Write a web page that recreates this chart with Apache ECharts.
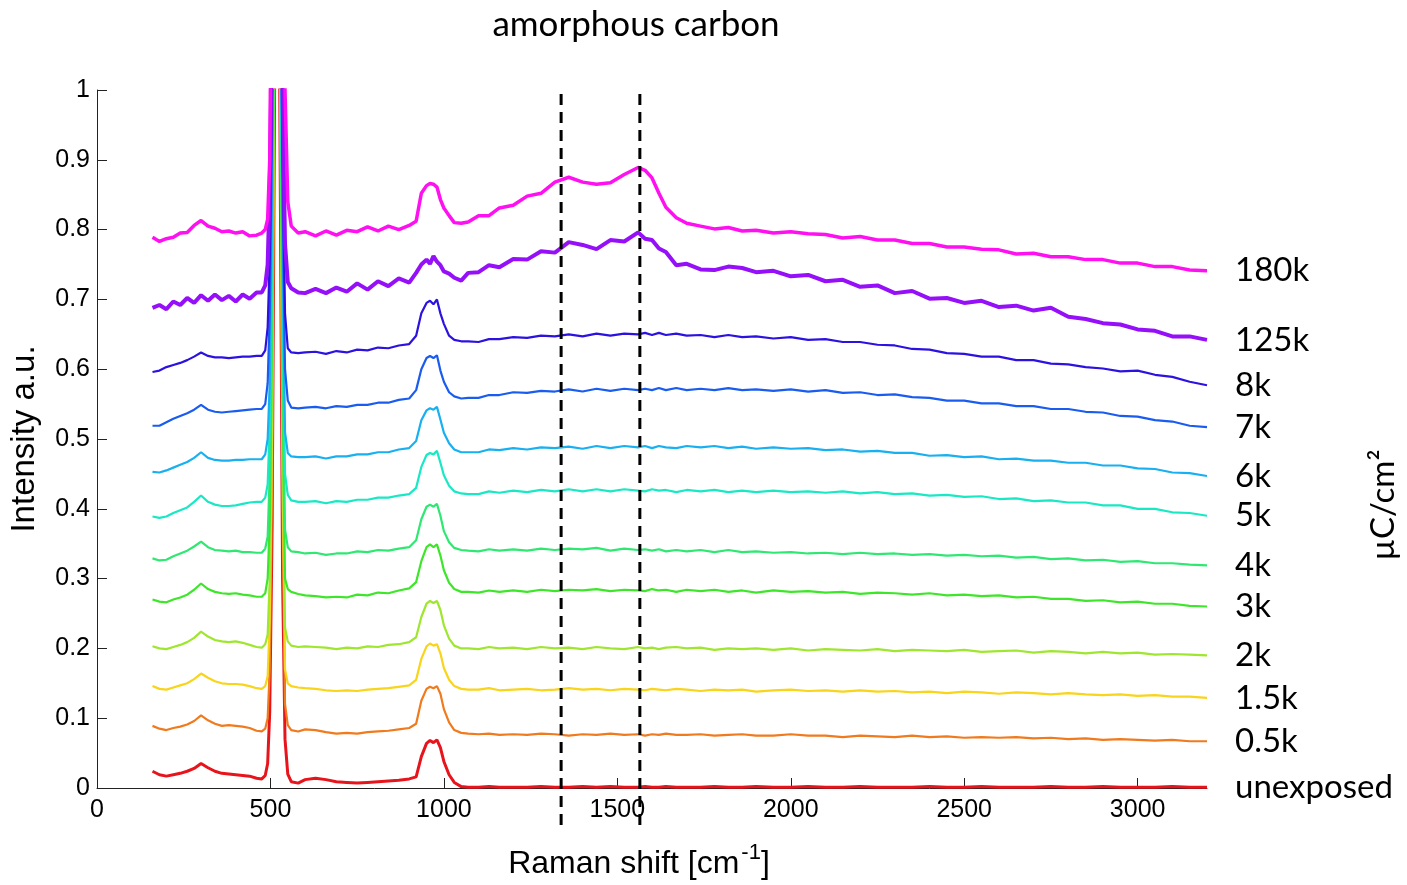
<!DOCTYPE html>
<html>
<head>
<meta charset="utf-8">
<script src="https://cdn.jsdelivr.net/npm/echarts@6/dist/echarts.min.js"></script>
<style>
  html, body { margin: 0; padding: 0; background: #fff; }
  #chart { width: 1407px; height: 885px; }
</style>
</head>
<body>
<div id="chart"></div>
<script>
// Raman shift sampling points [cm^-1], shared by every spectrum
const ramanShift = [
  160, 180, 200, 220, 240, 260, 280, 300, 320, 340, 360, 380, 400, 420, 440, 460,
  475, 485, 492, 498, 505, 512, 520, 528, 535, 542, 550,
  560, 580, 600,
  630, 660, 690, 720, 750, 780, 810, 840, 870, 900,
  920, 935, 950, 960, 970, 980, 990, 1000,
  1015, 1030, 1050, 1070,
  1100, 1130, 1160, 1200,
  1240, 1280, 1320, 1360, 1400, 1440, 1480, 1520, 1560,
  1580, 1600, 1620, 1640, 1670, 1700,
  1740, 1780, 1820, 1860, 1900,
  1950, 2000, 2050, 2100, 2150, 2200, 2250, 2300, 2350, 2400, 2450, 2500, 2550,
  2600, 2650, 2700, 2750, 2800, 2850, 2900, 2950, 3000, 3050, 3100, 3150, 3200
];

// Dose labels (µC/cm²), bottom to top
const doseLabels = ['unexposed', '0.5k', '1.5k', '2k', '3k', '4k', '5k', '6k', '7k', '8k', '125k', '180k'];

// Normalised intensities, offset per dose
const unexposed = [
  .024, .019, .017, .019, .021, .024, .028, .035, .029, .024, .021, .020, .019, .018, .017, .014,
  .013, .018, .035, .11, .38, 1.0, 1.6, .9, .3, .07, .02,
  .009, .007, .012,
  .014, .012, .009, .008, .007, .008, .009, .010, .011, .013,
  .016, .045, .064, .068, .065, .069, .058, .038,
  .019, .008, .002, .001,
  .001, .002, .001, .001,
  .001, .002, .001, .001, .002, .001, .002, .001, .001,
  .002, .001, .001, .002, .001, .001,
  .001, .002, .001, .001, .002,
  .001, .001, .002, .001, .001, .002, .001, .001, .001, .002, .001, .001, .002,
  .001, .001, .001, .002, .001, .001, .002, .001, .001, .001, .002, .001, .001
];
const dose05k = [
  .089, .085, .083, .086, .088, .091, .096, .104, .097, .092, .089, .090, .089, .088, .086, .082,
  .081, .085, .10, .17, .45, 1.1, 1.6, 1.0, .4, .12, .09,
  .083, .081, .084,
  .083, .080, .078, .079, .078, .080, .081, .082, .084, .086,
  .092, .125, .142, .145, .143, .146, .135, .113,
  .094, .083, .079, .078,
  .077, .078, .076, .077,
  .076, .078, .077, .075, .077, .076, .078, .076, .077,
  .075, .077, .076, .078, .076, .076,
  .077, .075, .076, .077, .075,
  .075, .077, .075, .075, .073, .075, .074, .073, .075, .073, .074, .072, .073,
  .072, .073, .071, .072, .070, .071, .069, .070, .069, .068, .069, .067, .067
];
const dose15k = [
  .146, .142, .141, .144, .147, .150, .156, .164, .158, .153, .150, .149, .149, .148, .146, .143,
  .142, .146, .16, .24, .52, 1.15, 1.6, 1.05, .45, .17, .15,
  .146, .144, .143,
  .142, .140, .139, .140, .139, .141, .142, .143, .145, .147,
  .155, .185, .203, .207, .204, .206, .193, .172,
  .155, .146, .142, .141,
  .141, .143, .140, .141,
  .142, .140, .141, .143, .141, .142, .140, .142, .141,
  .140, .142, .141, .140, .142, .141,
  .139, .141, .140, .141, .138,
  .140, .141, .139, .140, .138, .140, .138, .139, .137, .138, .136, .138, .137,
  .135, .137, .136, .134, .136, .134, .133, .134, .132, .133, .131, .131, .129
];
const dose2k = [
  .203, .200, .199, .202, .205, .209, .215, .224, .217, .212, .210, .209, .210, .208, .205, .202,
  .201, .206, .22, .30, .58, 1.2, 1.6, 1.1, .5, .23, .21,
  .204, .202, .203,
  .202, .201, .199, .201, .200, .203, .202, .205, .206, .209,
  .216, .245, .264, .268, .265, .268, .255, .233,
  .214, .204, .200, .200,
  .199, .202, .200, .201,
  .199, .202, .200, .201, .199, .202, .200, .199, .202,
  .200, .201, .199, .201, .202, .200,
  .201, .198, .200, .199, .200,
  .198, .200, .197, .199, .198, .197, .199, .196, .198, .197, .196, .198, .195,
  .196, .197, .194, .196, .195, .193, .195, .193, .194, .191, .192, .191, .190
];
const dose3k = [
  .270, .267, .266, .270, .273, .277, .284, .293, .285, .281, .279, .278, .279, .277, .276, .274,
  .274, .279, .30, .38, .66, 1.25, 1.6, 1.15, .56, .30, .285,
  .281, .278, .276,
  .275, .273, .274, .273, .277, .276, .280, .279, .283, .286,
  .295, .325, .345, .349, .345, .349, .333, .312,
  .294, .285, .281, .281,
  .280, .283, .281, .283,
  .281, .284, .282, .284, .283, .285, .282, .284, .283,
  .282, .285, .283, .284, .281, .284,
  .282, .284, .281, .283, .280,
  .283, .281, .282, .280, .281, .278, .280, .279, .277, .279, .276, .277, .275,
  .276, .273, .274, .271, .271, .268, .269, .266, .267, .264, .264, .261, .260
];
const dose4k = [
  .329, .326, .327, .332, .336, .340, .346, .353, .345, .341, .340, .339, .340, .338, .338, .337,
  .337, .343, .36, .45, .72, 1.3, 1.6, 1.2, .62, .37, .345,
  .339, .338, .336,
  .337, .334, .336, .336, .339, .338, .341, .340, .343, .345,
  .355, .385, .403, .406, .403, .407, .390, .368,
  .352, .344, .341, .340,
  .339, .342, .340, .342,
  .340, .343, .341, .343, .342, .344, .340, .343, .341,
  .342, .340, .342, .339, .341, .339,
  .341, .338, .341, .338, .339,
  .337, .338, .336, .337, .335, .337, .335, .336, .334, .335, .333, .334, .332,
  .333, .330, .331, .328, .329, .326, .327, .324, .325, .322, .322, .320, .319
];
const dose5k = [
  .389, .387, .389, .394, .398, .402, .410, .419, .410, .406, .404, .404, .405, .407, .409, .410,
  .410, .416, .435, .52, .80, 1.35, 1.6, 1.25, .70, .45, .42,
  .412, .410, .410,
  .411, .408, .411, .410, .413, .413, .416, .416, .419, .421,
  .430, .460, .477, .480, .478, .483, .466, .448,
  .433, .425, .422, .421,
  .421, .425, .423, .426,
  .424, .427, .425, .428, .425, .428, .425, .428, .426,
  .425, .428, .426, .427, .424, .427,
  .425, .427, .424, .426, .424,
  .426, .424, .425, .423, .425, .422, .424, .421, .422, .419, .420, .417, .418,
  .414, .415, .411, .412, .409, .409, .405, .405, .400, .400, .395, .394, .390
];
const dose6k = [
  .453, .452, .455, .459, .463, .467, .473, .481, .473, .470, .469, .469, .470, .470, .471, .471,
  .471, .478, .50, .58, .86, 1.4, 1.6, 1.3, .76, .51, .48,
  .475, .474, .474,
  .475, .472, .475, .475, .478, .478, .481, .481, .485, .487,
  .497, .527, .541, .544, .542, .546, .528, .509,
  .494, .485, .481, .481,
  .481, .485, .484, .487,
  .485, .488, .487, .489, .486, .490, .487, .490, .488,
  .490, .487, .490, .488, .487, .490,
  .488, .490, .487, .489, .486,
  .488, .486, .487, .484, .485, .482, .483, .480, .480, .476, .477, .474, .475,
  .471, .472, .469, .469, .466, .466, .462, .462, .458, .457, .452, .451, .447
];
const dose7k = [
  .519, .519, .524, .529, .533, .537, .542, .549, .542, .539, .538, .539, .540, .541, .542, .543,
  .543, .550, .58, .68, .95, 1.45, 1.6, 1.35, .85, .60, .555,
  .545, .544, .545,
  .546, .544, .547, .546, .549, .549, .552, .552, .556, .558,
  .570, .600, .616, .619, .616, .620, .598, .582,
  .567, .561, .558, .559,
  .559, .563, .563, .567,
  .566, .569, .568, .571, .568, .572, .569, .572, .570,
  .572, .570, .573, .570, .573, .570,
  .572, .570, .573, .570, .571,
  .569, .571, .568, .570, .566, .567, .563, .564, .560, .559, .555, .555, .551,
  .551, .547, .547, .543, .543, .539, .538, .533, .532, .527, .525, .519, .517
];
const dose8k = [
  .596, .598, .603, .606, .609, .613, .618, .624, .619, .617, .617, .616, .617, .618, .618, .619,
  .619, .627, .66, .76, 1.02, 1.5, 1.6, 1.4, .92, .68, .63,
  .624, .623, .624,
  .625, .622, .626, .624, .628, .627, .631, .630, .634, .636,
  .648, .680, .695, .698, .693, .700, .680, .665,
  .648, .642, .640, .640,
  .639, .643, .643, .646,
  .645, .648, .647, .650, .647, .651, .648, .651, .650,
  .652, .649, .652, .649, .651, .648,
  .649, .646, .649, .646, .647,
  .644, .646, .642, .643, .639, .639, .635, .634, .629, .628, .623, .622, .618,
  .618, .613, .613, .608, .607, .603, .601, .597, .598, .592, .589, .582, .577
];
const dose125k = [
  .688, .692, .686, .697, .692, .702, .695, .706, .698, .707, .699, .705, .697, .707, .701, .710,
  .710, .72, .75, .86, 1.1, 1.5, 1.7, 1.5, 1.0, .78, .725,
  .716, .710, .709,
  .715, .709, .717, .711, .723, .714, .726, .719, .730, .724,
  .738, .750, .757, .751, .762, .754, .749, .740,
  .737, .731, .727, .738,
  .739, .749, .746, .758,
  .757, .769, .767, .782, .778, .772, .785, .783, .796,
  .787, .785, .773, .768, .749, .751,
  .743, .742, .747, .745, .739,
  .741, .733, .735, .726, .728, .718, .720, .709, .712, .701, .702, .695, .698,
  .689, .691, .684, .688, .675, .672, .666, .664, .657, .655, .647, .647, .642
];
const dose180k = [
  .789, .783, .787, .789, .795, .796, .806, .813, .805, .802, .797, .798, .795, .797, .791, .792,
  .795, .80, .815, .90, 1.3, 1.6, 1.8, 1.6, 1.3, 1.0, .84,
  .805, .795, .797,
  .791, .798, .792, .799, .797, .804, .798, .805, .800, .806,
  .812, .852, .863, .866, .865, .861, .843, .831,
  .820, .810, .809, .811,
  .820, .820, .831, .835,
  .848, .852, .868, .875, .868, .865, .867, .879, .889,
  .885, .874, .852, .832, .817, .809,
  .805, .801, .803, .798, .799,
  .795, .797, .794, .793, .788, .790, .785, .785, .780, .780, .775, .775, .772,
  .771, .765, .766, .761, .761, .757, .757, .752, .752, .747, .747, .742, .741
];

const spectra = [unexposed, dose05k, dose15k, dose2k, dose3k, dose4k, dose5k, dose6k, dose7k, dose8k, dose125k, dose180k];
const lineColors = ['#e8141c', '#f07a1e', '#f8d41a', '#9fe62e', '#3ee62a', '#2ee872', '#19e8c4', '#18b0f0', '#1a5cf0', '#2c12e0', '#9510f8', '#ff10f0'];
const lineWidths = [3, 2.2, 2.2, 2.2, 2.2, 2.2, 2.2, 2.2, 2.2, 2.2, 4, 3.5];

// D and G band markers of amorphous carbon [cm^-1]
const bandPositions = [1338, 1565];

const labelFont = 'Lato, "Open Sans", sans-serif';
const axisFont = '"Liberation Sans", Arial, sans-serif';

const series = spectra.map((values, i) => ({
  name: doseLabels[i],
  type: 'line',
  symbol: 'none',
  smooth: false,
  data: ramanShift.map((x, k) => [x, values[k]]),
  lineStyle: { color: lineColors[i], width: lineWidths[i] },
  itemStyle: { color: lineColors[i] },
  endLabel: {
    show: true,
    formatter: '{a}',
    distance: 28,
    color: '#000',
    fontFamily: labelFont,
    fontSize: 33
  },
  z: 2
}));

bandPositions.forEach(pos => {
  series.push({
    type: 'line',
    symbol: 'none',
    silent: true,
    clip: false,
    data: [[pos, -0.053], [pos, 1.003]],
    lineStyle: { color: '#000', width: 3, type: [11, 7] },
    z: 5
  });
});

const chart = echarts.init(document.getElementById('chart'));
chart.setOption({
  animation: false,
  backgroundColor: '#fff',
  grid: { left: 93, right: 200, top: 90, bottom: 95, containLabel: false },
  xAxis: {
    type: 'value',
    min: 0, max: 3200, interval: 500,
    name: 'Raman shift [cm{sup|-1}]',
    nameLocation: 'middle',
    nameGap: 54,
    nameTextStyle: {
      color: '#000', fontFamily: axisFont, fontSize: 32,
      padding: [0, 26, 0, 0],
      rich: { sup: { fontFamily: axisFont, fontSize: 22, verticalAlign: 'top', padding: [0, 0, 22, 2], color: '#000' } }
    },
    axisLine: { show: true, onZero: false, lineStyle: { color: '#222', width: 1 } },
    axisTick: { show: true, inside: true, length: 10, lineStyle: { color: '#222' } },
    axisLabel: {
      color: '#000', fontFamily: axisFont, fontSize: 25, margin: 10,
      showMaxLabel: false, alignMinLabel: 'center',
      formatter: v => String(v)
    },
    splitLine: { show: false }
  },
  yAxis: {
    type: 'value',
    min: 0, max: 1, interval: 0.1,
    name: 'Intensity a.u.',
    nameLocation: 'middle',
    nameGap: 56,
    nameTextStyle: { color: '#000', fontFamily: axisFont, fontSize: 33 },
    axisLine: { show: true, onZero: false, lineStyle: { color: '#222', width: 1 } },
    axisTick: { show: true, inside: true, length: 10, lineStyle: { color: '#222' } },
    axisLabel: { color: '#000', fontFamily: axisFont, fontSize: 25, margin: 7, formatter: v => String(+v.toFixed(1)) },
    splitLine: { show: false }
  },
  graphic: [
    {
      type: 'text', x: 636, y: 25,
      style: { text: 'amorphous carbon', fontFamily: labelFont, fontSize: 35, fill: '#000', align: 'center', verticalAlign: 'middle' }
    },
    {
      type: 'text', x: 1383, y: 505, rotation: Math.PI / 2,
      style: { text: 'µC/cm²', fontFamily: labelFont, fontSize: 33, fill: '#000', align: 'center', verticalAlign: 'middle' }
    }
  ],
  series: series
});
</script>
</body>
</html>
